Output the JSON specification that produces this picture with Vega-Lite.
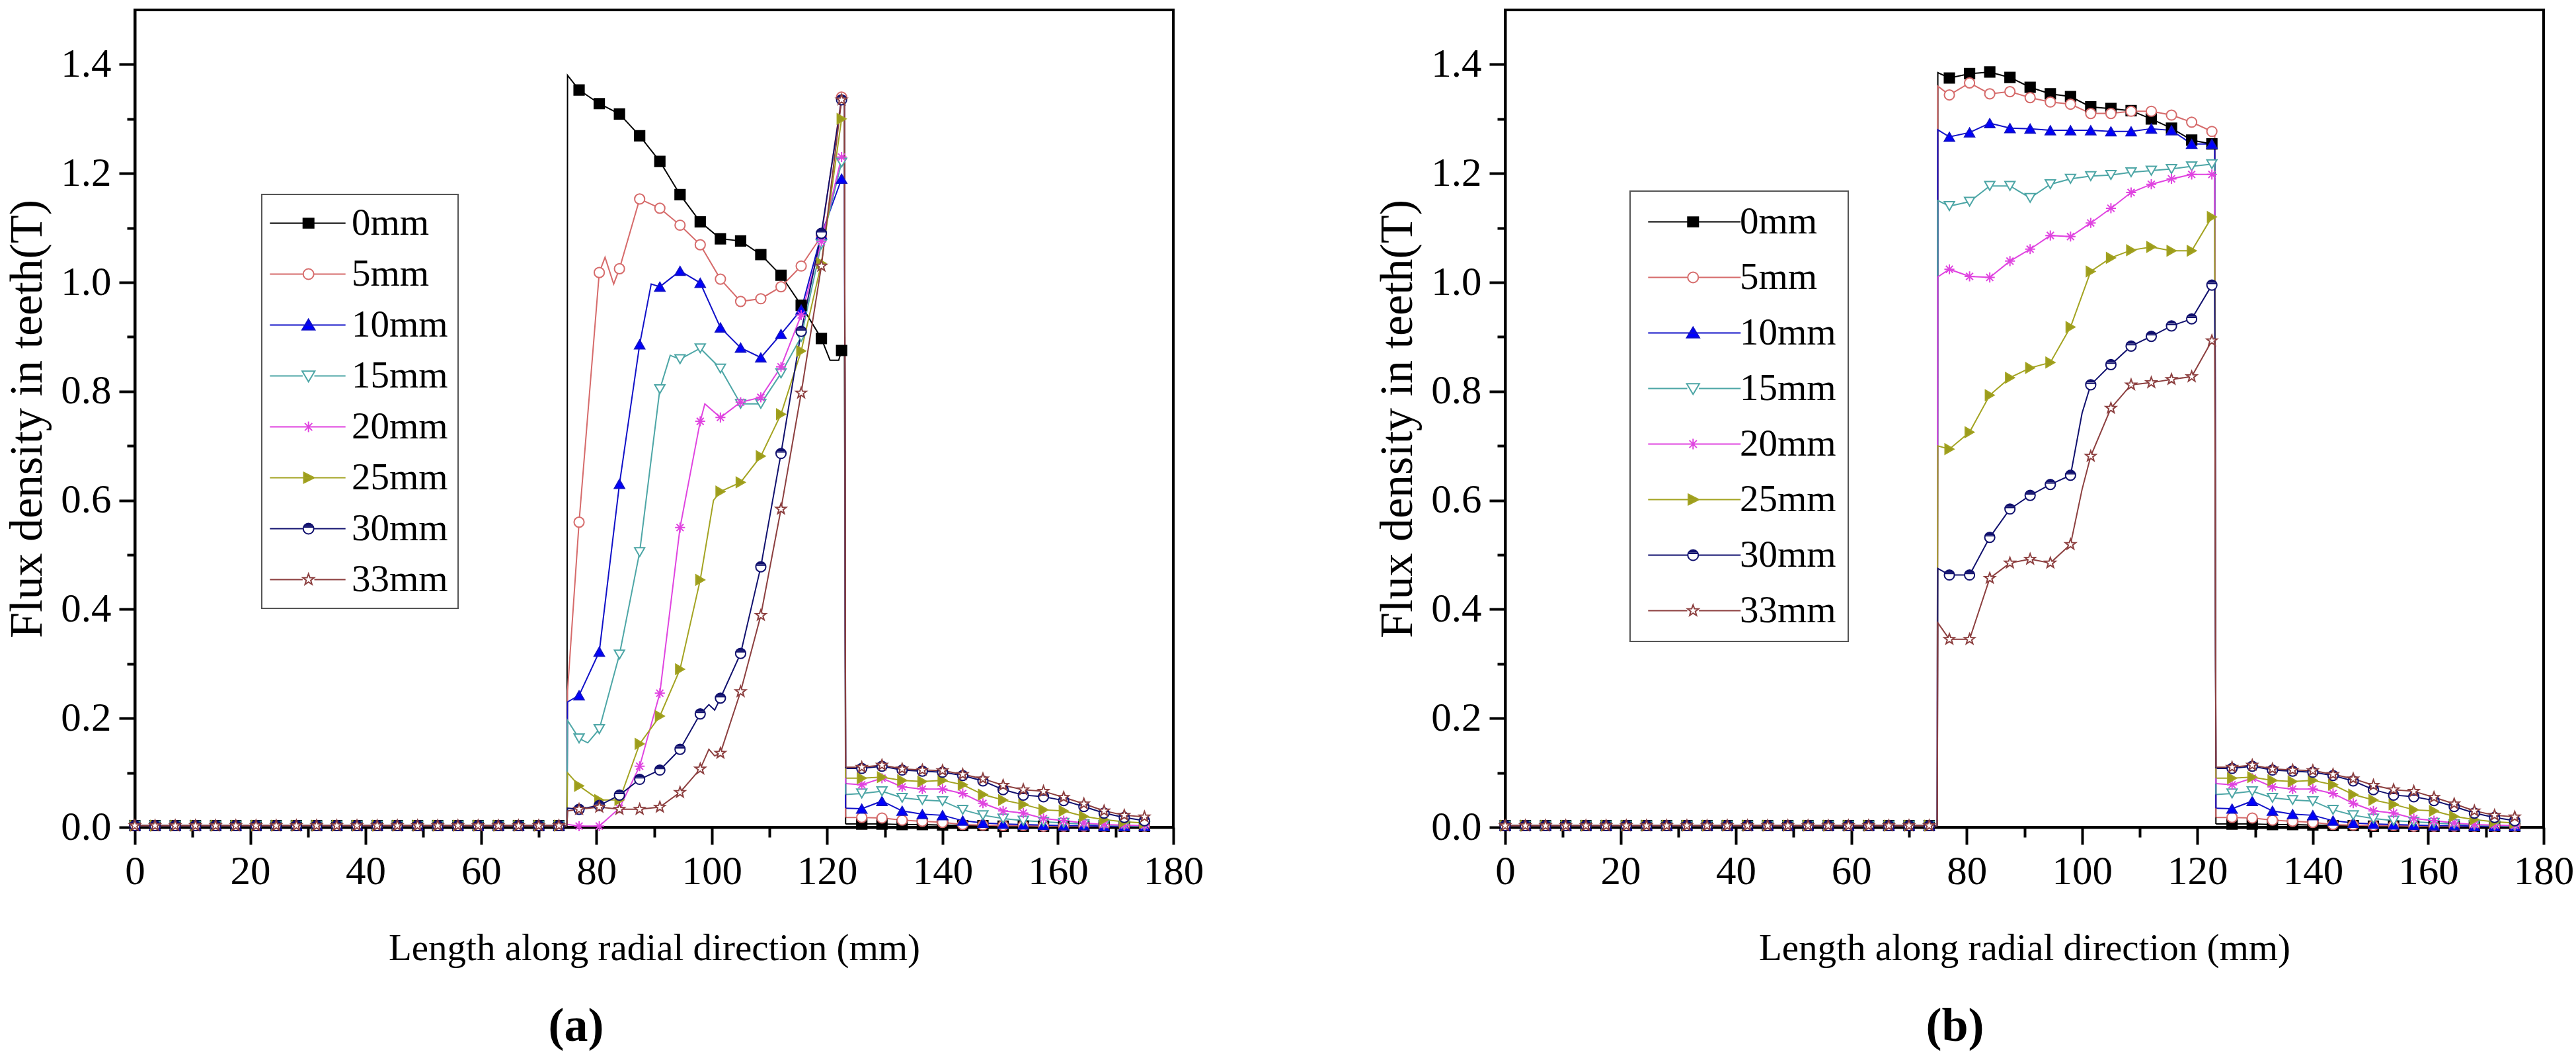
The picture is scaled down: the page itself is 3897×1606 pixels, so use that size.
{
  "$schema": "https://vega.github.io/schema/vega-lite/v6.json",
  "background": "white",
  "padding": {"left": 4, "top": 13, "right": 10, "bottom": 10},
  "config": {
    "font": "Liberation Serif",
    "view": {"stroke": "black", "strokeWidth": 4},
    "axis": {
      "grid": false, "domainColor": "black", "domainWidth": 4, "tickColor": "black", "tickWidth": 4,
      "labelColor": "black", "labelFont": "Liberation Serif", "labelFontSize": 61,
      "titleFont": "Liberation Serif", "titleFontSize": 57, "titleFontWeight": "normal", "titleColor": "black",
      "labelFlush": false, "labelOverlap": false, "labelBound": false
    },
    "axisX": {"labelPadding": 11, "titlePadding": 58},
    "axisY": {"labelPadding": 12, "titlePadding": 14, "titleFontSize": 70},
    "legend": {
      "title": null, "orient": "none", "direction": "vertical", "strokeColor": "#555555", "fillColor": "white",
      "symbolSize": 256, "symbolStrokeWidth": 2, "labelFont": "Liberation Serif", "labelFontSize": 57,
      "labelColor": "black", "labelLimit": 500
    }
  },
  "datasets": {
    "gapyoke": [
      {"s":"0mm","part":"gap","x":0,"y":0.003},{"s":"0mm","part":"gap","x":3.5,"y":0.003},{"s":"0mm","part":"gap","x":7,"y":0.003},{"s":"0mm","part":"gap","x":10.5,"y":0.003},{"s":"0mm","part":"gap","x":14,"y":0.003},{"s":"0mm","part":"gap","x":17.5,"y":0.003},{"s":"0mm","part":"gap","x":21,"y":0.003},{"s":"0mm","part":"gap","x":24.5,"y":0.003},{"s":"0mm","part":"gap","x":28,"y":0.003},{"s":"0mm","part":"gap","x":31.5,"y":0.003},{"s":"0mm","part":"gap","x":35,"y":0.003},{"s":"0mm","part":"gap","x":38.5,"y":0.003},{"s":"0mm","part":"gap","x":42,"y":0.003},{"s":"0mm","part":"gap","x":45.5,"y":0.003},{"s":"0mm","part":"gap","x":49,"y":0.003},{"s":"0mm","part":"gap","x":52.5,"y":0.003},{"s":"0mm","part":"gap","x":56,"y":0.003},{"s":"0mm","part":"gap","x":59.5,"y":0.003},{"s":"0mm","part":"gap","x":63,"y":0.003},{"s":"0mm","part":"gap","x":66.5,"y":0.003},{"s":"0mm","part":"gap","x":70,"y":0.003},{"s":"0mm","part":"gap","x":73.5,"y":0.003},{"s":"0mm","part":"gap","x":74.9,"y":0.003},
      {"s":"5mm","part":"gap","x":0,"y":0.003},{"s":"5mm","part":"gap","x":3.5,"y":0.003},{"s":"5mm","part":"gap","x":7,"y":0.003},{"s":"5mm","part":"gap","x":10.5,"y":0.003},{"s":"5mm","part":"gap","x":14,"y":0.003},{"s":"5mm","part":"gap","x":17.5,"y":0.003},{"s":"5mm","part":"gap","x":21,"y":0.003},{"s":"5mm","part":"gap","x":24.5,"y":0.003},{"s":"5mm","part":"gap","x":28,"y":0.003},{"s":"5mm","part":"gap","x":31.5,"y":0.003},{"s":"5mm","part":"gap","x":35,"y":0.003},{"s":"5mm","part":"gap","x":38.5,"y":0.003},{"s":"5mm","part":"gap","x":42,"y":0.003},{"s":"5mm","part":"gap","x":45.5,"y":0.003},{"s":"5mm","part":"gap","x":49,"y":0.003},{"s":"5mm","part":"gap","x":52.5,"y":0.003},{"s":"5mm","part":"gap","x":56,"y":0.003},{"s":"5mm","part":"gap","x":59.5,"y":0.003},{"s":"5mm","part":"gap","x":63,"y":0.003},{"s":"5mm","part":"gap","x":66.5,"y":0.003},{"s":"5mm","part":"gap","x":70,"y":0.003},{"s":"5mm","part":"gap","x":73.5,"y":0.003},{"s":"5mm","part":"gap","x":74.9,"y":0.003},
      {"s":"10mm","part":"gap","x":0,"y":0.003},{"s":"10mm","part":"gap","x":3.5,"y":0.003},{"s":"10mm","part":"gap","x":7,"y":0.003},{"s":"10mm","part":"gap","x":10.5,"y":0.003},{"s":"10mm","part":"gap","x":14,"y":0.003},{"s":"10mm","part":"gap","x":17.5,"y":0.003},{"s":"10mm","part":"gap","x":21,"y":0.003},{"s":"10mm","part":"gap","x":24.5,"y":0.003},{"s":"10mm","part":"gap","x":28,"y":0.003},{"s":"10mm","part":"gap","x":31.5,"y":0.003},{"s":"10mm","part":"gap","x":35,"y":0.003},{"s":"10mm","part":"gap","x":38.5,"y":0.003},{"s":"10mm","part":"gap","x":42,"y":0.003},{"s":"10mm","part":"gap","x":45.5,"y":0.003},{"s":"10mm","part":"gap","x":49,"y":0.003},{"s":"10mm","part":"gap","x":52.5,"y":0.003},{"s":"10mm","part":"gap","x":56,"y":0.003},{"s":"10mm","part":"gap","x":59.5,"y":0.003},{"s":"10mm","part":"gap","x":63,"y":0.003},{"s":"10mm","part":"gap","x":66.5,"y":0.003},{"s":"10mm","part":"gap","x":70,"y":0.003},{"s":"10mm","part":"gap","x":73.5,"y":0.003},{"s":"10mm","part":"gap","x":74.9,"y":0.003},
      {"s":"15mm","part":"gap","x":0,"y":0.003},{"s":"15mm","part":"gap","x":3.5,"y":0.003},{"s":"15mm","part":"gap","x":7,"y":0.003},{"s":"15mm","part":"gap","x":10.5,"y":0.003},{"s":"15mm","part":"gap","x":14,"y":0.003},{"s":"15mm","part":"gap","x":17.5,"y":0.003},{"s":"15mm","part":"gap","x":21,"y":0.003},{"s":"15mm","part":"gap","x":24.5,"y":0.003},{"s":"15mm","part":"gap","x":28,"y":0.003},{"s":"15mm","part":"gap","x":31.5,"y":0.003},{"s":"15mm","part":"gap","x":35,"y":0.003},{"s":"15mm","part":"gap","x":38.5,"y":0.003},{"s":"15mm","part":"gap","x":42,"y":0.003},{"s":"15mm","part":"gap","x":45.5,"y":0.003},{"s":"15mm","part":"gap","x":49,"y":0.003},{"s":"15mm","part":"gap","x":52.5,"y":0.003},{"s":"15mm","part":"gap","x":56,"y":0.003},{"s":"15mm","part":"gap","x":59.5,"y":0.003},{"s":"15mm","part":"gap","x":63,"y":0.003},{"s":"15mm","part":"gap","x":66.5,"y":0.003},{"s":"15mm","part":"gap","x":70,"y":0.003},{"s":"15mm","part":"gap","x":73.5,"y":0.003},{"s":"15mm","part":"gap","x":74.9,"y":0.003},
      {"s":"20mm","part":"gap","x":0,"y":0.003},{"s":"20mm","part":"gap","x":3.5,"y":0.003},{"s":"20mm","part":"gap","x":7,"y":0.003},{"s":"20mm","part":"gap","x":10.5,"y":0.003},{"s":"20mm","part":"gap","x":14,"y":0.003},{"s":"20mm","part":"gap","x":17.5,"y":0.003},{"s":"20mm","part":"gap","x":21,"y":0.003},{"s":"20mm","part":"gap","x":24.5,"y":0.003},{"s":"20mm","part":"gap","x":28,"y":0.003},{"s":"20mm","part":"gap","x":31.5,"y":0.003},{"s":"20mm","part":"gap","x":35,"y":0.003},{"s":"20mm","part":"gap","x":38.5,"y":0.003},{"s":"20mm","part":"gap","x":42,"y":0.003},{"s":"20mm","part":"gap","x":45.5,"y":0.003},{"s":"20mm","part":"gap","x":49,"y":0.003},{"s":"20mm","part":"gap","x":52.5,"y":0.003},{"s":"20mm","part":"gap","x":56,"y":0.003},{"s":"20mm","part":"gap","x":59.5,"y":0.003},{"s":"20mm","part":"gap","x":63,"y":0.003},{"s":"20mm","part":"gap","x":66.5,"y":0.003},{"s":"20mm","part":"gap","x":70,"y":0.003},{"s":"20mm","part":"gap","x":73.5,"y":0.003},{"s":"20mm","part":"gap","x":74.9,"y":0.003},
      {"s":"25mm","part":"gap","x":0,"y":0.003},{"s":"25mm","part":"gap","x":3.5,"y":0.003},{"s":"25mm","part":"gap","x":7,"y":0.003},{"s":"25mm","part":"gap","x":10.5,"y":0.003},{"s":"25mm","part":"gap","x":14,"y":0.003},{"s":"25mm","part":"gap","x":17.5,"y":0.003},{"s":"25mm","part":"gap","x":21,"y":0.003},{"s":"25mm","part":"gap","x":24.5,"y":0.003},{"s":"25mm","part":"gap","x":28,"y":0.003},{"s":"25mm","part":"gap","x":31.5,"y":0.003},{"s":"25mm","part":"gap","x":35,"y":0.003},{"s":"25mm","part":"gap","x":38.5,"y":0.003},{"s":"25mm","part":"gap","x":42,"y":0.003},{"s":"25mm","part":"gap","x":45.5,"y":0.003},{"s":"25mm","part":"gap","x":49,"y":0.003},{"s":"25mm","part":"gap","x":52.5,"y":0.003},{"s":"25mm","part":"gap","x":56,"y":0.003},{"s":"25mm","part":"gap","x":59.5,"y":0.003},{"s":"25mm","part":"gap","x":63,"y":0.003},{"s":"25mm","part":"gap","x":66.5,"y":0.003},{"s":"25mm","part":"gap","x":70,"y":0.003},{"s":"25mm","part":"gap","x":73.5,"y":0.003},{"s":"25mm","part":"gap","x":74.9,"y":0.003},
      {"s":"30mm","part":"gap","x":0,"y":0.003},{"s":"30mm","part":"gap","x":3.5,"y":0.003},{"s":"30mm","part":"gap","x":7,"y":0.003},{"s":"30mm","part":"gap","x":10.5,"y":0.003},{"s":"30mm","part":"gap","x":14,"y":0.003},{"s":"30mm","part":"gap","x":17.5,"y":0.003},{"s":"30mm","part":"gap","x":21,"y":0.003},{"s":"30mm","part":"gap","x":24.5,"y":0.003},{"s":"30mm","part":"gap","x":28,"y":0.003},{"s":"30mm","part":"gap","x":31.5,"y":0.003},{"s":"30mm","part":"gap","x":35,"y":0.003},{"s":"30mm","part":"gap","x":38.5,"y":0.003},{"s":"30mm","part":"gap","x":42,"y":0.003},{"s":"30mm","part":"gap","x":45.5,"y":0.003},{"s":"30mm","part":"gap","x":49,"y":0.003},{"s":"30mm","part":"gap","x":52.5,"y":0.003},{"s":"30mm","part":"gap","x":56,"y":0.003},{"s":"30mm","part":"gap","x":59.5,"y":0.003},{"s":"30mm","part":"gap","x":63,"y":0.003},{"s":"30mm","part":"gap","x":66.5,"y":0.003},{"s":"30mm","part":"gap","x":70,"y":0.003},{"s":"30mm","part":"gap","x":73.5,"y":0.003},{"s":"30mm","part":"gap","x":74.9,"y":0.003},
      {"s":"33mm","part":"gap","x":0,"y":0.003},{"s":"33mm","part":"gap","x":3.5,"y":0.003},{"s":"33mm","part":"gap","x":7,"y":0.003},{"s":"33mm","part":"gap","x":10.5,"y":0.003},{"s":"33mm","part":"gap","x":14,"y":0.003},{"s":"33mm","part":"gap","x":17.5,"y":0.003},{"s":"33mm","part":"gap","x":21,"y":0.003},{"s":"33mm","part":"gap","x":24.5,"y":0.003},{"s":"33mm","part":"gap","x":28,"y":0.003},{"s":"33mm","part":"gap","x":31.5,"y":0.003},{"s":"33mm","part":"gap","x":35,"y":0.003},{"s":"33mm","part":"gap","x":38.5,"y":0.003},{"s":"33mm","part":"gap","x":42,"y":0.003},{"s":"33mm","part":"gap","x":45.5,"y":0.003},{"s":"33mm","part":"gap","x":49,"y":0.003},{"s":"33mm","part":"gap","x":52.5,"y":0.003},{"s":"33mm","part":"gap","x":56,"y":0.003},{"s":"33mm","part":"gap","x":59.5,"y":0.003},{"s":"33mm","part":"gap","x":63,"y":0.003},{"s":"33mm","part":"gap","x":66.5,"y":0.003},{"s":"33mm","part":"gap","x":70,"y":0.003},{"s":"33mm","part":"gap","x":73.5,"y":0.003},{"s":"33mm","part":"gap","x":74.9,"y":0.003},
      {"s":"0mm","part":"yoke","x":123.2,"y":0.006},{"s":"0mm","part":"yoke","x":126,"y":0.006},{"s":"0mm","part":"yoke","x":129.5,"y":0.006},{"s":"0mm","part":"yoke","x":133,"y":0.005},{"s":"0mm","part":"yoke","x":136.5,"y":0.005},{"s":"0mm","part":"yoke","x":140,"y":0.004},{"s":"0mm","part":"yoke","x":143.5,"y":0.003},{"s":"0mm","part":"yoke","x":147,"y":0.003},{"s":"0mm","part":"yoke","x":150.5,"y":0.002},{"s":"0mm","part":"yoke","x":154,"y":0.002},{"s":"0mm","part":"yoke","x":157.5,"y":0.002},{"s":"0mm","part":"yoke","x":161,"y":0.002},{"s":"0mm","part":"yoke","x":164.5,"y":0.002},{"s":"0mm","part":"yoke","x":168,"y":0.002},{"s":"0mm","part":"yoke","x":171.5,"y":0.002},{"s":"0mm","part":"yoke","x":175,"y":0.002},
      {"s":"5mm","part":"yoke","x":123.2,"y":0.018},{"s":"5mm","part":"yoke","x":126,"y":0.018},{"s":"5mm","part":"yoke","x":129.5,"y":0.017},{"s":"5mm","part":"yoke","x":133,"y":0.013},{"s":"5mm","part":"yoke","x":136.5,"y":0.011},{"s":"5mm","part":"yoke","x":140,"y":0.009},{"s":"5mm","part":"yoke","x":143.5,"y":0.005},{"s":"5mm","part":"yoke","x":147,"y":0.004},{"s":"5mm","part":"yoke","x":150.5,"y":0.003},{"s":"5mm","part":"yoke","x":154,"y":0.003},{"s":"5mm","part":"yoke","x":157.5,"y":0.002},{"s":"5mm","part":"yoke","x":161,"y":0.002},{"s":"5mm","part":"yoke","x":164.5,"y":0.002},{"s":"5mm","part":"yoke","x":168,"y":0.002},{"s":"5mm","part":"yoke","x":171.5,"y":0.002},{"s":"5mm","part":"yoke","x":175,"y":0.002},
      {"s":"10mm","part":"yoke","x":123.2,"y":0.035},{"s":"10mm","part":"yoke","x":126,"y":0.034},{"s":"10mm","part":"yoke","x":129.5,"y":0.048},{"s":"10mm","part":"yoke","x":133,"y":0.03},{"s":"10mm","part":"yoke","x":136.5,"y":0.024},{"s":"10mm","part":"yoke","x":140,"y":0.022},{"s":"10mm","part":"yoke","x":143.5,"y":0.012},{"s":"10mm","part":"yoke","x":147,"y":0.008},{"s":"10mm","part":"yoke","x":150.5,"y":0.006},{"s":"10mm","part":"yoke","x":154,"y":0.005},{"s":"10mm","part":"yoke","x":157.5,"y":0.004},{"s":"10mm","part":"yoke","x":161,"y":0.003},{"s":"10mm","part":"yoke","x":164.5,"y":0.003},{"s":"10mm","part":"yoke","x":168,"y":0.002},{"s":"10mm","part":"yoke","x":171.5,"y":0.002},{"s":"10mm","part":"yoke","x":175,"y":0.002},
      {"s":"15mm","part":"yoke","x":123.2,"y":0.06},{"s":"15mm","part":"yoke","x":126,"y":0.062},{"s":"15mm","part":"yoke","x":129.5,"y":0.066},{"s":"15mm","part":"yoke","x":133,"y":0.054},{"s":"15mm","part":"yoke","x":136.5,"y":0.05},{"s":"15mm","part":"yoke","x":140,"y":0.048},{"s":"15mm","part":"yoke","x":143.5,"y":0.032},{"s":"15mm","part":"yoke","x":147,"y":0.022},{"s":"15mm","part":"yoke","x":150.5,"y":0.016},{"s":"15mm","part":"yoke","x":154,"y":0.012},{"s":"15mm","part":"yoke","x":157.5,"y":0.01},{"s":"15mm","part":"yoke","x":161,"y":0.008},{"s":"15mm","part":"yoke","x":164.5,"y":0.006},{"s":"15mm","part":"yoke","x":168,"y":0.004},{"s":"15mm","part":"yoke","x":171.5,"y":0.003},{"s":"15mm","part":"yoke","x":175,"y":0.002},
      {"s":"20mm","part":"yoke","x":123.2,"y":0.08},{"s":"20mm","part":"yoke","x":126,"y":0.078},{"s":"20mm","part":"yoke","x":129.5,"y":0.09},{"s":"20mm","part":"yoke","x":133,"y":0.074},{"s":"20mm","part":"yoke","x":136.5,"y":0.07},{"s":"20mm","part":"yoke","x":140,"y":0.07},{"s":"20mm","part":"yoke","x":143.5,"y":0.062},{"s":"20mm","part":"yoke","x":147,"y":0.044},{"s":"20mm","part":"yoke","x":150.5,"y":0.03},{"s":"20mm","part":"yoke","x":154,"y":0.026},{"s":"20mm","part":"yoke","x":157.5,"y":0.016},{"s":"20mm","part":"yoke","x":161,"y":0.012},{"s":"20mm","part":"yoke","x":164.5,"y":0.008},{"s":"20mm","part":"yoke","x":168,"y":0.005},{"s":"20mm","part":"yoke","x":171.5,"y":0.004},{"s":"20mm","part":"yoke","x":175,"y":0.003},
      {"s":"25mm","part":"yoke","x":123.2,"y":0.09},{"s":"25mm","part":"yoke","x":126,"y":0.09},{"s":"25mm","part":"yoke","x":129.5,"y":0.092},{"s":"25mm","part":"yoke","x":133,"y":0.086},{"s":"25mm","part":"yoke","x":136.5,"y":0.084},{"s":"25mm","part":"yoke","x":140,"y":0.086},{"s":"25mm","part":"yoke","x":143.5,"y":0.078},{"s":"25mm","part":"yoke","x":147,"y":0.06},{"s":"25mm","part":"yoke","x":150.5,"y":0.05},{"s":"25mm","part":"yoke","x":154,"y":0.042},{"s":"25mm","part":"yoke","x":157.5,"y":0.032},{"s":"25mm","part":"yoke","x":161,"y":0.03},{"s":"25mm","part":"yoke","x":164.5,"y":0.02},{"s":"25mm","part":"yoke","x":168,"y":0.014},{"s":"25mm","part":"yoke","x":171.5,"y":0.01},{"s":"25mm","part":"yoke","x":175,"y":0.008},
      {"s":"30mm","part":"yoke","x":123.2,"y":0.108},{"s":"30mm","part":"yoke","x":126,"y":0.108},{"s":"30mm","part":"yoke","x":129.5,"y":0.112},{"s":"30mm","part":"yoke","x":133,"y":0.105},{"s":"30mm","part":"yoke","x":136.5,"y":0.103},{"s":"30mm","part":"yoke","x":140,"y":0.101},{"s":"30mm","part":"yoke","x":143.5,"y":0.095},{"s":"30mm","part":"yoke","x":147,"y":0.085},{"s":"30mm","part":"yoke","x":150.5,"y":0.069},{"s":"30mm","part":"yoke","x":154,"y":0.059},{"s":"30mm","part":"yoke","x":157.5,"y":0.056},{"s":"30mm","part":"yoke","x":161,"y":0.049},{"s":"30mm","part":"yoke","x":164.5,"y":0.038},{"s":"30mm","part":"yoke","x":168,"y":0.026},{"s":"30mm","part":"yoke","x":171.5,"y":0.018},{"s":"30mm","part":"yoke","x":175,"y":0.012},
      {"s":"33mm","part":"yoke","x":123.2,"y":0.11},{"s":"33mm","part":"yoke","x":126,"y":0.11},{"s":"33mm","part":"yoke","x":129.5,"y":0.114},{"s":"33mm","part":"yoke","x":133,"y":0.107},{"s":"33mm","part":"yoke","x":136.5,"y":0.105},{"s":"33mm","part":"yoke","x":140,"y":0.104},{"s":"33mm","part":"yoke","x":143.5,"y":0.097},{"s":"33mm","part":"yoke","x":147,"y":0.089},{"s":"33mm","part":"yoke","x":150.5,"y":0.077},{"s":"33mm","part":"yoke","x":154,"y":0.069},{"s":"33mm","part":"yoke","x":157.5,"y":0.066},{"s":"33mm","part":"yoke","x":161,"y":0.055},{"s":"33mm","part":"yoke","x":164.5,"y":0.043},{"s":"33mm","part":"yoke","x":168,"y":0.03},{"s":"33mm","part":"yoke","x":171.5,"y":0.022},{"s":"33mm","part":"yoke","x":175,"y":0.019}
    ],
    "teethA": [
      {"s":"0mm","x":74.9,"y":0.003},{"s":"0mm","x":75,"y":1.38},{"s":"0mm","x":77,"y":1.353},{"s":"0mm","x":80.5,"y":1.328},{"s":"0mm","x":84,"y":1.309},{"s":"0mm","x":87.5,"y":1.269},{"s":"0mm","x":91,"y":1.222},{"s":"0mm","x":94.5,"y":1.161},{"s":"0mm","x":98,"y":1.111},{"s":"0mm","x":101.5,"y":1.08},{"s":"0mm","x":105,"y":1.076},{"s":"0mm","x":108.5,"y":1.051},{"s":"0mm","x":112,"y":1.013},{"s":"0mm","x":115.5,"y":0.958},{"s":"0mm","x":119,"y":0.897},{"s":"0mm","x":120.5,"y":0.857},{"s":"0mm","x":122,"y":0.857},{"s":"0mm","x":122.5,"y":0.875},{"s":"0mm","x":123,"y":0.875},{"s":"0mm","x":123.2,"y":0.006},
      {"s":"5mm","x":74.9,"y":0.003},{"s":"5mm","x":75,"y":0.25},{"s":"5mm","x":77,"y":0.56},{"s":"5mm","x":80.5,"y":1.018},{"s":"5mm","x":81.5,"y":1.046},{"s":"5mm","x":83,"y":0.997},{"s":"5mm","x":84,"y":1.025},{"s":"5mm","x":87.5,"y":1.153},{"s":"5mm","x":91,"y":1.136},{"s":"5mm","x":94.5,"y":1.105},{"s":"5mm","x":98,"y":1.069},{"s":"5mm","x":101.5,"y":1.006},{"s":"5mm","x":105,"y":0.965},{"s":"5mm","x":108.5,"y":0.97},{"s":"5mm","x":112,"y":0.992},{"s":"5mm","x":115.5,"y":1.03},{"s":"5mm","x":119,"y":1.085},{"s":"5mm","x":122.5,"y":1.34},{"s":"5mm","x":123,"y":1.34},{"s":"5mm","x":123.2,"y":0.018},
      {"s":"10mm","x":74.9,"y":0.003},{"s":"10mm","x":75,"y":0.23},{"s":"10mm","x":77,"y":0.242},{"s":"10mm","x":80.5,"y":0.322},{"s":"10mm","x":84,"y":0.63},{"s":"10mm","x":87.5,"y":0.886},{"s":"10mm","x":89.5,"y":0.997},{"s":"10mm","x":91,"y":0.992},{"s":"10mm","x":94.5,"y":1.021},{"s":"10mm","x":98,"y":0.999},{"s":"10mm","x":101.5,"y":0.917},{"s":"10mm","x":105,"y":0.88},{"s":"10mm","x":108.5,"y":0.862},{"s":"10mm","x":112,"y":0.905},{"s":"10mm","x":115.5,"y":0.95},{"s":"10mm","x":119,"y":1.088},{"s":"10mm","x":122.5,"y":1.19},{"s":"10mm","x":123,"y":1.19},{"s":"10mm","x":123.2,"y":0.035},
      {"s":"15mm","x":74.9,"y":0.003},{"s":"15mm","x":75,"y":0.196},{"s":"15mm","x":77,"y":0.163},{"s":"15mm","x":78.5,"y":0.155},{"s":"15mm","x":80.5,"y":0.18},{"s":"15mm","x":84,"y":0.317},{"s":"15mm","x":87.5,"y":0.505},{"s":"15mm","x":91,"y":0.804},{"s":"15mm","x":92.8,"y":0.866},{"s":"15mm","x":94.5,"y":0.859},{"s":"15mm","x":98,"y":0.879},{"s":"15mm","x":101.5,"y":0.842},{"s":"15mm","x":105,"y":0.777},{"s":"15mm","x":108.5,"y":0.777},{"s":"15mm","x":112,"y":0.833},{"s":"15mm","x":115.5,"y":0.9},{"s":"15mm","x":119,"y":1.07},{"s":"15mm","x":122.5,"y":1.22},{"s":"15mm","x":123,"y":1.22},{"s":"15mm","x":123.2,"y":0.06},
      {"s":"20mm","x":74.9,"y":0.003},{"s":"20mm","x":75,"y":0.005},{"s":"20mm","x":77,"y":0.002},{"s":"20mm","x":80.5,"y":0.002},{"s":"20mm","x":84,"y":0.035},{"s":"20mm","x":87.5,"y":0.112},{"s":"20mm","x":91,"y":0.246},{"s":"20mm","x":94.5,"y":0.55},{"s":"20mm","x":98,"y":0.745},{"s":"20mm","x":98.8,"y":0.777},{"s":"20mm","x":101.5,"y":0.752},{"s":"20mm","x":105,"y":0.78},{"s":"20mm","x":108.5,"y":0.789},{"s":"20mm","x":112,"y":0.845},{"s":"20mm","x":115.5,"y":0.94},{"s":"20mm","x":119,"y":1.075},{"s":"20mm","x":122.5,"y":1.23},{"s":"20mm","x":123,"y":1.23},{"s":"20mm","x":123.2,"y":0.08},
      {"s":"25mm","x":74.9,"y":0.003},{"s":"25mm","x":75,"y":0.1},{"s":"25mm","x":77,"y":0.076},{"s":"25mm","x":80.5,"y":0.05},{"s":"25mm","x":84,"y":0.05},{"s":"25mm","x":87.5,"y":0.153},{"s":"25mm","x":91,"y":0.204},{"s":"25mm","x":94.5,"y":0.29},{"s":"25mm","x":98,"y":0.454},{"s":"25mm","x":100.3,"y":0.6},{"s":"25mm","x":101.5,"y":0.616},{"s":"25mm","x":105,"y":0.633},{"s":"25mm","x":108.5,"y":0.681},{"s":"25mm","x":112,"y":0.758},{"s":"25mm","x":115.5,"y":0.874},{"s":"25mm","x":119,"y":1.035},{"s":"25mm","x":122.5,"y":1.3},{"s":"25mm","x":123,"y":1.3},{"s":"25mm","x":123.2,"y":0.09},
      {"s":"30mm","x":74.9,"y":0.003},{"s":"30mm","x":75,"y":0.035},{"s":"30mm","x":77,"y":0.033},{"s":"30mm","x":80.5,"y":0.04},{"s":"30mm","x":84,"y":0.059},{"s":"30mm","x":87.5,"y":0.088},{"s":"30mm","x":91,"y":0.105},{"s":"30mm","x":94.5,"y":0.143},{"s":"30mm","x":98,"y":0.208},{"s":"30mm","x":99.5,"y":0.225},{"s":"30mm","x":100.5,"y":0.215},{"s":"30mm","x":101.5,"y":0.237},{"s":"30mm","x":105,"y":0.319},{"s":"30mm","x":108.5,"y":0.478},{"s":"30mm","x":112,"y":0.686},{"s":"30mm","x":115.5,"y":0.91},{"s":"30mm","x":119,"y":1.09},{"s":"30mm","x":122.5,"y":1.335},{"s":"30mm","x":123,"y":1.335},{"s":"30mm","x":123.2,"y":0.108},
      {"s":"33mm","x":74.9,"y":0.003},{"s":"33mm","x":75,"y":0.03},{"s":"33mm","x":77,"y":0.033},{"s":"33mm","x":80.5,"y":0.037},{"s":"33mm","x":84,"y":0.033},{"s":"33mm","x":87.5,"y":0.033},{"s":"33mm","x":91,"y":0.037},{"s":"33mm","x":94.5,"y":0.064},{"s":"33mm","x":98,"y":0.107},{"s":"33mm","x":99.5,"y":0.143},{"s":"33mm","x":100.5,"y":0.131},{"s":"33mm","x":101.5,"y":0.136},{"s":"33mm","x":105,"y":0.249},{"s":"33mm","x":108.5,"y":0.389},{"s":"33mm","x":112,"y":0.584},{"s":"33mm","x":115.5,"y":0.797},{"s":"33mm","x":119,"y":1.03},{"s":"33mm","x":122.5,"y":1.335},{"s":"33mm","x":123,"y":1.335},{"s":"33mm","x":123.2,"y":0.11}
    ],
    "teethB": [
      {"s":"0mm","x":74.9,"y":0.003},{"s":"0mm","x":75,"y":1.385},{"s":"0mm","x":77,"y":1.375},{"s":"0mm","x":80.5,"y":1.383},{"s":"0mm","x":84,"y":1.386},{"s":"0mm","x":87.5,"y":1.376},{"s":"0mm","x":91,"y":1.358},{"s":"0mm","x":94.5,"y":1.346},{"s":"0mm","x":98,"y":1.341},{"s":"0mm","x":101.5,"y":1.322},{"s":"0mm","x":105,"y":1.319},{"s":"0mm","x":108.5,"y":1.315},{"s":"0mm","x":112,"y":1.3},{"s":"0mm","x":115.5,"y":1.283},{"s":"0mm","x":119,"y":1.261},{"s":"0mm","x":122.5,"y":1.254},{"s":"0mm","x":123,"y":1.254},{"s":"0mm","x":123.2,"y":0.006},
      {"s":"5mm","x":74.9,"y":0.003},{"s":"5mm","x":75,"y":1.36},{"s":"5mm","x":77,"y":1.344},{"s":"5mm","x":80.5,"y":1.366},{"s":"5mm","x":84,"y":1.346},{"s":"5mm","x":87.5,"y":1.35},{"s":"5mm","x":91,"y":1.339},{"s":"5mm","x":94.5,"y":1.331},{"s":"5mm","x":98,"y":1.327},{"s":"5mm","x":101.5,"y":1.31},{"s":"5mm","x":105,"y":1.31},{"s":"5mm","x":108.5,"y":1.314},{"s":"5mm","x":112,"y":1.314},{"s":"5mm","x":115.5,"y":1.307},{"s":"5mm","x":119,"y":1.294},{"s":"5mm","x":122.5,"y":1.277},{"s":"5mm","x":123,"y":1.277},{"s":"5mm","x":123.2,"y":0.018},
      {"s":"10mm","x":74.9,"y":0.003},{"s":"10mm","x":75,"y":1.28},{"s":"10mm","x":77,"y":1.267},{"s":"10mm","x":80.5,"y":1.275},{"s":"10mm","x":84,"y":1.292},{"s":"10mm","x":87.5,"y":1.283},{"s":"10mm","x":91,"y":1.282},{"s":"10mm","x":94.5,"y":1.279},{"s":"10mm","x":98,"y":1.279},{"s":"10mm","x":101.5,"y":1.279},{"s":"10mm","x":105,"y":1.277},{"s":"10mm","x":108.5,"y":1.277},{"s":"10mm","x":112,"y":1.282},{"s":"10mm","x":115.5,"y":1.279},{"s":"10mm","x":119,"y":1.254},{"s":"10mm","x":122.5,"y":1.254},{"s":"10mm","x":123,"y":1.254},{"s":"10mm","x":123.2,"y":0.035},
      {"s":"15mm","x":74.9,"y":0.003},{"s":"15mm","x":75,"y":1.15},{"s":"15mm","x":77,"y":1.14},{"s":"15mm","x":80.5,"y":1.148},{"s":"15mm","x":84,"y":1.177},{"s":"15mm","x":87.5,"y":1.177},{"s":"15mm","x":91,"y":1.155},{"s":"15mm","x":94.5,"y":1.18},{"s":"15mm","x":98,"y":1.19},{"s":"15mm","x":101.5,"y":1.195},{"s":"15mm","x":105,"y":1.197},{"s":"15mm","x":108.5,"y":1.202},{"s":"15mm","x":112,"y":1.205},{"s":"15mm","x":115.5,"y":1.208},{"s":"15mm","x":119,"y":1.213},{"s":"15mm","x":122.5,"y":1.217},{"s":"15mm","x":123,"y":1.217},{"s":"15mm","x":123.2,"y":0.06},
      {"s":"20mm","x":74.9,"y":0.003},{"s":"20mm","x":75,"y":1.01},{"s":"20mm","x":77,"y":1.024},{"s":"20mm","x":80.5,"y":1.011},{"s":"20mm","x":84,"y":1.009},{"s":"20mm","x":87.5,"y":1.039},{"s":"20mm","x":91,"y":1.061},{"s":"20mm","x":94.5,"y":1.086},{"s":"20mm","x":98,"y":1.084},{"s":"20mm","x":101.5,"y":1.109},{"s":"20mm","x":105,"y":1.136},{"s":"20mm","x":108.5,"y":1.165},{"s":"20mm","x":112,"y":1.18},{"s":"20mm","x":115.5,"y":1.19},{"s":"20mm","x":119,"y":1.198},{"s":"20mm","x":122.5,"y":1.198},{"s":"20mm","x":123,"y":1.198},{"s":"20mm","x":123.2,"y":0.08},
      {"s":"25mm","x":74.9,"y":0.003},{"s":"25mm","x":75,"y":0.7},{"s":"25mm","x":77,"y":0.694},{"s":"25mm","x":80.5,"y":0.725},{"s":"25mm","x":84,"y":0.793},{"s":"25mm","x":87.5,"y":0.825},{"s":"25mm","x":91,"y":0.843},{"s":"25mm","x":94.5,"y":0.853},{"s":"25mm","x":98,"y":0.918},{"s":"25mm","x":101.5,"y":1.02},{"s":"25mm","x":105,"y":1.045},{"s":"25mm","x":108.5,"y":1.059},{"s":"25mm","x":112,"y":1.065},{"s":"25mm","x":115.5,"y":1.058},{"s":"25mm","x":119,"y":1.058},{"s":"25mm","x":122.5,"y":1.12},{"s":"25mm","x":123,"y":1.12},{"s":"25mm","x":123.2,"y":0.09},
      {"s":"30mm","x":74.9,"y":0.003},{"s":"30mm","x":75,"y":0.475},{"s":"30mm","x":77,"y":0.463},{"s":"30mm","x":80.5,"y":0.463},{"s":"30mm","x":84,"y":0.532},{"s":"30mm","x":87.5,"y":0.584},{"s":"30mm","x":91,"y":0.609},{"s":"30mm","x":94.5,"y":0.629},{"s":"30mm","x":98,"y":0.646},{"s":"30mm","x":100,"y":0.76},{"s":"30mm","x":101.5,"y":0.812},{"s":"30mm","x":105,"y":0.849},{"s":"30mm","x":108.5,"y":0.883},{"s":"30mm","x":112,"y":0.901},{"s":"30mm","x":115.5,"y":0.92},{"s":"30mm","x":119,"y":0.933},{"s":"30mm","x":122.5,"y":0.995},{"s":"30mm","x":123,"y":0.995},{"s":"30mm","x":123.2,"y":0.108},
      {"s":"33mm","x":74.9,"y":0.003},{"s":"33mm","x":75,"y":0.375},{"s":"33mm","x":77,"y":0.345},{"s":"33mm","x":80.5,"y":0.345},{"s":"33mm","x":84,"y":0.457},{"s":"33mm","x":87.5,"y":0.485},{"s":"33mm","x":91,"y":0.492},{"s":"33mm","x":94.5,"y":0.485},{"s":"33mm","x":98,"y":0.519},{"s":"33mm","x":100,"y":0.62},{"s":"33mm","x":101.5,"y":0.681},{"s":"33mm","x":105,"y":0.769},{"s":"33mm","x":108.5,"y":0.812},{"s":"33mm","x":112,"y":0.816},{"s":"33mm","x":115.5,"y":0.822},{"s":"33mm","x":119,"y":0.827},{"s":"33mm","x":122.5,"y":0.893},{"s":"33mm","x":123,"y":0.893},{"s":"33mm","x":123.2,"y":0.11}
    ]
  },
  "spacing": 502,
  "bounds": "flush",
  "resolve": {"scale": {"stroke": "independent"}, "legend": {"stroke": "independent"}},
  "hconcat": [
    {
      "width": 1571,
      "height": 1236,
      "title": {"text": "(a)", "orient": "bottom", "anchor": "middle", "dx": -118, "offset": 55, "fontSize": 72, "fontWeight": "bold", "color": "black", "font": "Liberation Serif"},
      "encoding": {
        "x": {"field": "x", "type": "quantitative", "scale": {"domain": [0, 180], "nice": false},
          "axis": {"title": "Length along radial direction (mm)", "labelFont": "Liberation Serif", "titleFont": "Liberation Serif",
            "values": [0,10,20,30,40,50,60,70,80,90,100,110,120,130,140,150,160,170,180],
            "labelExpr": "datum.value % 20 === 0 ? datum.label : ''",
            "tickSize": {"condition": {"test": "datum.value % 20 !== 0", "value": 15}, "value": 26}}},
        "y": {"field": "y", "type": "quantitative", "scale": {"domain": [0, 1.5], "nice": false},
          "axis": {"title": "Flux density in teeth(T)", "labelFont": "Liberation Serif", "titleFont": "Liberation Serif",
            "values": [0,0.1,0.2,0.3,0.4,0.5,0.6,0.7,0.8,0.9,1,1.1,1.2,1.3,1.4],
            "labelExpr": "round(datum.value * 10) % 2 === 0 ? format(datum.value, '.1f') : ''",
            "tickSize": {"condition": {"test": "round(datum.value * 10) % 2 === 1", "value": 12}, "value": 24}}},
        "stroke": {"field": "s", "type": "nominal",
          "scale": {"domain": ["0mm","5mm","10mm","15mm","20mm","25mm","30mm","33mm"], "range": ["#000000","#d66b6b","#1010c8","#4da6a6","#e044e0","#a3a321","#10106e","#8c3f3f"]},
          "legend": {"legendX": 192, "legendY": 279, "padding": 15, "rowPadding": 19, "labelOffset": 64,
            "labelFont": "Liberation Serif", "labelFontSize": 57, "labelColor": "black",
            "encode": {
              "labels": {"update": {"font": {"value": "Liberation Serif"}}},
              "symbols": {"update": {
                "size": {"value": 256}, "opacity": {"value": 1},
                "shape": {"signal": "['M-3.9,0H10.4M2.4,-0.9H4.4V0.9H2.4Z','M-3.9,0H2.4M4.4,0H10.4M2.4,0A1,1 0 1,0 4.4,0A1,1 0 1,0 2.4,0Z','M-3.9,0H10.4M3.4,-1.1L4.6,0.9H2.2Z','M-3.9,0H2.3M4.5,0H10.4M2.2,-0.9H4.6L3.4,1.1Z','M-3.9,0H10.4M3.4,-1V1M2.7,-0.7L4.1,0.7M2.7,0.7L4.1,-0.7','M-3.9,0H10.4M2.5,-1L4.5,0L2.5,1Z','M-3.9,0H2.4M4.4,0H10.4M2.4,0A1,1 0 1,1 4.4,0A1,1 0 1,1 2.4,0ZM2.45,-0.3H4.35M2.6,-0.6H4.2M2.95,-0.85H3.85','M-3.9,0H2.3M4.5,0H10.4M3.4,-1.1L3.665,-0.364L4.446,-0.34L3.828,0.139L4.047,0.89L3.4,0.45L2.753,0.89L2.972,0.139L2.354,-0.34L3.135,-0.364Z'][indexof(['0mm','5mm','10mm','15mm','20mm','25mm','30mm','33mm'], datum.value)]"},
                "fill": {"signal": "['#000000','#ffffff','#0000ff','#ffffff','#ffffff','#9c9c1c','#ffffff','#ffffff'][indexof(['0mm','5mm','10mm','15mm','20mm','25mm','30mm','33mm'], datum.value)]"}
              }},
              "legend": {"update": {"strokeWidth": {"value": 2}}}
            }}}
      },
      "layer": [
        {"data": {"name": "gapyoke"}, "mark": {"type": "line", "strokeWidth": 2}, "encoding": {"detail": {"field": "part", "type": "nominal"}}},
        {"data": {"name": "teethA"}, "mark": {"type": "line", "strokeWidth": 2}},
        {"data": {"name": "gapyoke"}, "transform": [{"filter": "abs(datum.x / 3.5 - round(datum.x / 3.5)) < 0.01"}],
          "mark": {"type": "point", "size": 230, "strokeWidth": 2, "opacity": 1},
          "encoding": {
            "shape": {"field": "s", "type": "nominal", "legend": null, "scale": {"domain": ["0mm","5mm","10mm","15mm","20mm","25mm","30mm","33mm"], "range": ["square","circle","triangle-up","triangle-down","M-1,0H1M0,-1V1M-0.7,-0.7L0.7,0.7M-0.7,0.7L0.7,-0.7","triangle-right","M-1,0A1,1 0 1,1 1,0A1,1 0 1,1 -1,0ZM-0.95,-0.3H0.95M-0.8,-0.6H0.8M-0.45,-0.85H0.45","M0,-1.1L0.265,-0.364L1.046,-0.34L0.428,0.139L0.647,0.89L0,0.45L-0.647,0.89L-0.428,0.139L-1.046,-0.34L-0.265,-0.364Z"]}},
            "fill": {"field": "s", "type": "nominal", "legend": null, "scale": {"domain": ["0mm","5mm","10mm","15mm","20mm","25mm","30mm","33mm"], "range": ["#000000","#ffffff","#0000ff","#ffffff","#ffffff","#9c9c1c","#ffffff","#ffffff"]}}
          }},
        {"data": {"name": "teethA"}, "transform": [{"filter": "abs(datum.x / 3.5 - round(datum.x / 3.5)) < 0.01"}],
          "mark": {"type": "point", "size": 230, "strokeWidth": 2, "opacity": 1},
          "encoding": {
            "shape": {"field": "s", "type": "nominal", "legend": null},
            "fill": {"field": "s", "type": "nominal", "legend": null}
          }}
      ]
    },
    {
      "width": 1571,
      "height": 1236,
      "title": {"text": "(b)", "orient": "bottom", "anchor": "middle", "dx": -105, "offset": 55, "fontSize": 72, "fontWeight": "bold", "color": "black", "font": "Liberation Serif"},
      "encoding": {
        "x": {"field": "x", "type": "quantitative", "scale": {"domain": [0, 180], "nice": false},
          "axis": {"title": "Length along radial direction (mm)", "labelFont": "Liberation Serif", "titleFont": "Liberation Serif",
            "values": [0,10,20,30,40,50,60,70,80,90,100,110,120,130,140,150,160,170,180],
            "labelExpr": "datum.value % 20 === 0 ? datum.label : ''",
            "tickSize": {"condition": {"test": "datum.value % 20 !== 0", "value": 15}, "value": 26}}},
        "y": {"field": "y", "type": "quantitative", "scale": {"domain": [0, 1.5], "nice": false},
          "axis": {"title": "Flux density in teeth(T)", "labelFont": "Liberation Serif", "titleFont": "Liberation Serif",
            "values": [0,0.1,0.2,0.3,0.4,0.5,0.6,0.7,0.8,0.9,1,1.1,1.2,1.3,1.4],
            "labelExpr": "round(datum.value * 10) % 2 === 0 ? format(datum.value, '.1f') : ''",
            "tickSize": {"condition": {"test": "round(datum.value * 10) % 2 === 1", "value": 12}, "value": 24}}},
        "stroke": {"field": "s", "type": "nominal",
          "scale": {"domain": ["0mm","5mm","10mm","15mm","20mm","25mm","30mm","33mm"], "range": ["#000000","#d66b6b","#1010c8","#4da6a6","#e044e0","#a3a321","#10106e","#8c3f3f"]},
          "legend": {"legendX": 189, "legendY": 274, "padding": 18, "rowPadding": 26, "labelOffset": 91,
            "labelFont": "Liberation Serif", "labelFontSize": 57, "labelColor": "black",
            "encode": {
              "labels": {"update": {"font": {"value": "Liberation Serif"}}},
              "symbols": {"update": {
                "size": {"value": 256}, "opacity": {"value": 1},
                "shape": {"signal": "['M-2.4,0H15.1M5.1,-0.9H7.1V0.9H5.1Z','M-2.4,0H5.1M7.1,0H15.1M5.1,0A1,1 0 1,0 7.1,0A1,1 0 1,0 5.1,0Z','M-2.4,0H15.1M6.1,-1.1L7.3,0.9H4.9Z','M-2.4,0H5M7.2,0H15.1M4.9,-0.9H7.3L6.1,1.1Z','M-2.4,0H15.1M6.1,-1V1M5.4,-0.7L6.8,0.7M5.4,0.7L6.8,-0.7','M-2.4,0H15.1M5.2,-1L7.2,0L5.2,1Z','M-2.4,0H5.1M7.1,0H15.1M5.1,0A1,1 0 1,1 7.1,0A1,1 0 1,1 5.1,0ZM5.15,-0.3H7.05M5.3,-0.6H6.9M5.65,-0.85H6.55','M-2.4,0H5M7.2,0H15.1M6.1,-1.1L6.365,-0.364L7.146,-0.34L6.528,0.139L6.747,0.89L6.1,0.45L5.453,0.89L5.672,0.139L5.054,-0.34L5.835,-0.364Z'][indexof(['0mm','5mm','10mm','15mm','20mm','25mm','30mm','33mm'], datum.value)]"},
                "fill": {"signal": "['#000000','#ffffff','#0000ff','#ffffff','#ffffff','#9c9c1c','#ffffff','#ffffff'][indexof(['0mm','5mm','10mm','15mm','20mm','25mm','30mm','33mm'], datum.value)]"}
              }},
              "legend": {"update": {"strokeWidth": {"value": 2}}}
            }}}
      },
      "layer": [
        {"data": {"name": "gapyoke"}, "mark": {"type": "line", "strokeWidth": 2}, "encoding": {"detail": {"field": "part", "type": "nominal"}}},
        {"data": {"name": "teethB"}, "mark": {"type": "line", "strokeWidth": 2}},
        {"data": {"name": "gapyoke"}, "transform": [{"filter": "abs(datum.x / 3.5 - round(datum.x / 3.5)) < 0.01"}],
          "mark": {"type": "point", "size": 230, "strokeWidth": 2, "opacity": 1},
          "encoding": {
            "shape": {"field": "s", "type": "nominal", "legend": null},
            "fill": {"field": "s", "type": "nominal", "legend": null}
          }},
        {"data": {"name": "teethB"}, "transform": [{"filter": "abs(datum.x / 3.5 - round(datum.x / 3.5)) < 0.01"}],
          "mark": {"type": "point", "size": 230, "strokeWidth": 2, "opacity": 1},
          "encoding": {
            "shape": {"field": "s", "type": "nominal", "legend": null},
            "fill": {"field": "s", "type": "nominal", "legend": null}
          }}
      ]
    }
  ]
}
